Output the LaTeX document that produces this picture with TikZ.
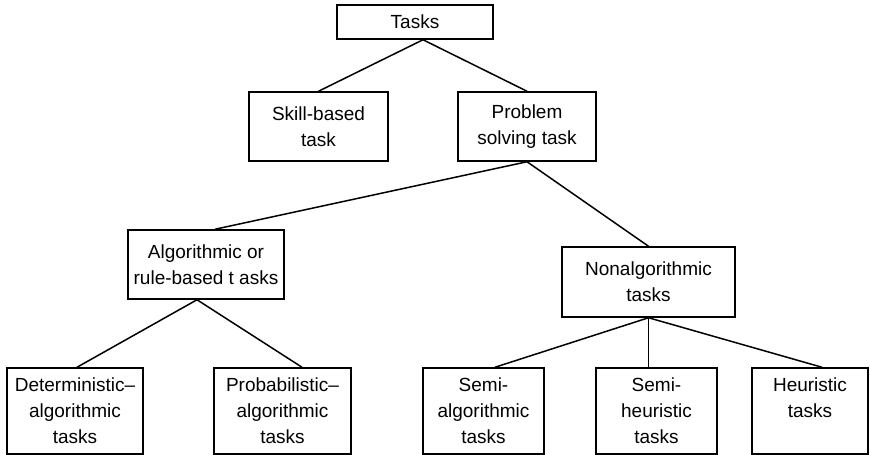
\documentclass[tikz,border=0pt]{standalone}
\usepackage{fontspec}
\setmainfont{Liberation Sans}
\usetikzlibrary{calc}
\begin{document}
\begin{tikzpicture}[x=1pt,y=-1pt,
  box/.style={draw, line width=1.5pt, inner sep=0pt, align=center,
              font=\fontsize{19}{26}\selectfont},
  link/.style={line width=1.5pt}]
\useasboundingbox (0,0) rectangle (870,455);

% top level
\node[box, minimum width=156pt, minimum height=34pt] (tasks) at (415,22) {Tasks};

% second level
\node[box, minimum width=139pt, minimum height=69pt] (skill) at (318.5,126.5) {Skill-based\\task};
\node[box, minimum width=138pt, minimum height=69pt] (problem) at (527,126.5) {Problem\\solving task};

% third level
\node[box, minimum width=156pt, minimum height=69pt] (algo) at (206,264.5) {Algorithmic or\\rule-based t asks};
\node[box, minimum width=173pt, minimum height=70pt] (nonalg) at (648.5,282) {Nonalgorithmic\\tasks};

% leaves
\node[box, minimum width=136pt, minimum height=86pt] (det) at (75,411) {Deterministic--\\algorithmic\\tasks};
\node[box, minimum width=137pt, minimum height=86pt] (prob) at (282.5,411) {Probabilistic--\\algorithmic\\tasks};
\node[box, minimum width=121pt, minimum height=86pt] (semialg) at (483.5,411) {Semi-\\algorithmic\\tasks};
\node[box, minimum width=121pt, minimum height=86pt] (semiheur) at (656.5,411) {Semi-\\heuristic\\tasks};
\node[box, minimum width=116pt, minimum height=86pt] (heur) at (810,411) {Heuristic\\tasks\\\mbox{}};

% connectors
\coordinate (tasksB) at ($(tasks.south)+(8,0)$);
\draw[link] (tasksB) -- (skill.north);
\draw[link] (tasksB) -- (problem.north);

\draw[link] (problem.south) -- ($(algo.north)+(9,0)$);
\draw[link] (problem.south) -- (nonalg.north);

\coordinate (algoB) at ($(algo.south)+(-9,0)$);
\draw[link] (algoB) -- ($(det.north)+(2,0)$);
\draw[link] (algoB) -- ($(prob.north)+(19.5,0)$);

\draw[link] (nonalg.south) -- ($(semialg.north)+(11.5,0)$);
\draw[link] (nonalg.south) -- (nonalg.south |- semiheur.north);
\draw[link] (nonalg.south) -- ($(heur.north)+(12,0)$);
\end{tikzpicture}
\end{document}
